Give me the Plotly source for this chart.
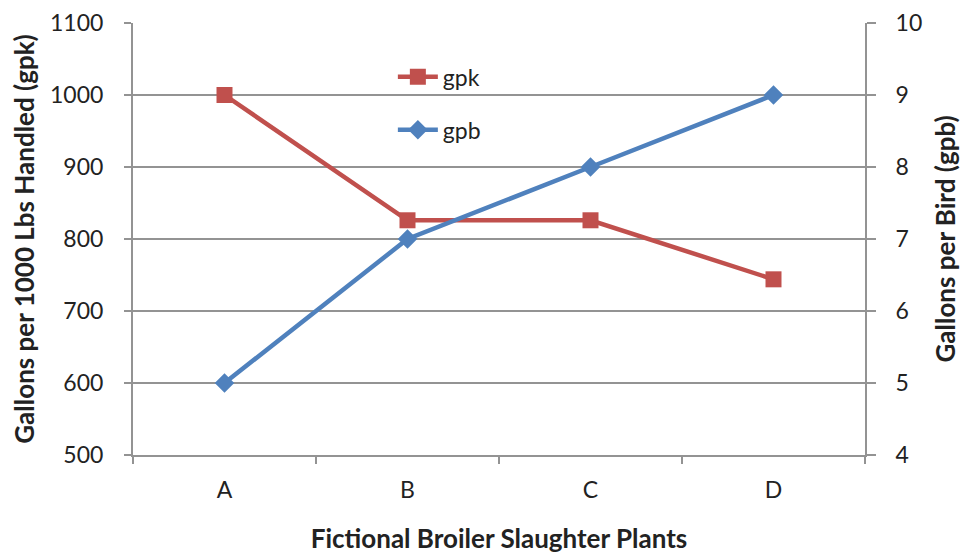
import plotly.graph_objects as go

# Plant categories and the two water-use measures
plants = ["A", "B", "C", "D"]
gpk = [1000, 826, 826, 744]   # gallons per 1000 lbs handled
gpb = [5, 7, 8, 9]            # gallons per bird

left_ticks = [500, 600, 700, 800, 900, 1000, 1100]
right_ticks = [4, 5, 6, 7, 8, 9, 10]

RED = "#C0504D"
BLUE = "#4F81BD"
AXIS = "#939393"
FONT = "Lato"

fig = go.Figure()
fig.add_trace(go.Scatter(
    x=plants, y=gpk, name="gpk", mode="lines+markers",
    line=dict(color=RED, width=4.5),
    marker=dict(symbol="square", size=16, color=RED),
    legendgroup="gpk", yaxis="y",
))
fig.add_trace(go.Scatter(
    x=plants, y=gpb, name="gpb", mode="lines+markers",
    line=dict(color=BLUE, width=4.5),
    marker=dict(symbol="diamond", size=15, color=BLUE),
    legendgroup="gpb", yaxis="y2",
))

fig.update_layout(
    width=961, height=554,
    margin=dict(l=133, r=96, t=23, b=99, autoexpand=False),
    paper_bgcolor="white", plot_bgcolor="white",
    font=dict(family=FONT, size=23, color="#222"),
    showlegend=True,
    legend=dict(
        x=0.355, y=0.925, xanchor="left", yanchor="top",
        bgcolor="rgba(0,0,0,0)", font=dict(size=23, color="#222"),
        traceorder="grouped", tracegroupgap=20, itemwidth=40,
    ),
    xaxis=dict(
        type="category", range=[-0.5, 3.5], automargin=False,
        showline=True, linecolor=AXIS, linewidth=2,
        ticks="outside", tickson="boundaries", ticklen=7, tickcolor=AXIS, tickwidth=2,
        showgrid=False, zeroline=False,
        tickfont=dict(size=23), ticklabelstandoff=13,
        title=dict(text="<b>Fictional Broiler Slaughter Plants</b>",
                   font=dict(size=26), standoff=32),
    ),
    yaxis=dict(
        range=[500, 1100], tickvals=left_ticks, automargin=False,
        showline=True, linecolor=AXIS, linewidth=2,
        ticks="outside", ticklen=7, tickcolor=AXIS, tickwidth=2,
        showgrid=True, gridcolor=AXIS, gridwidth=2, zeroline=False,
        tickfont=dict(size=23), ticklabelstandoff=16,
        title=dict(text="<b>Gallons per 1000 Lbs Handled (gpk)</b>",
                   font=dict(size=26), standoff=8),
    ),
    yaxis2=dict(
        range=[4, 10], tickvals=right_ticks, overlaying="y", side="right",
        automargin=False,
        showline=True, linecolor=AXIS, linewidth=2,
        ticks="outside", ticklen=9, tickcolor=AXIS, tickwidth=2,
        showgrid=False, zeroline=False,
        tickfont=dict(size=23), ticklabelstandoff=15,
        title=dict(text="<b>Gallons per Bird (gpb)</b>",
                   font=dict(size=26), standoff=20),
    ),
)

fig.write_html("out.html")
